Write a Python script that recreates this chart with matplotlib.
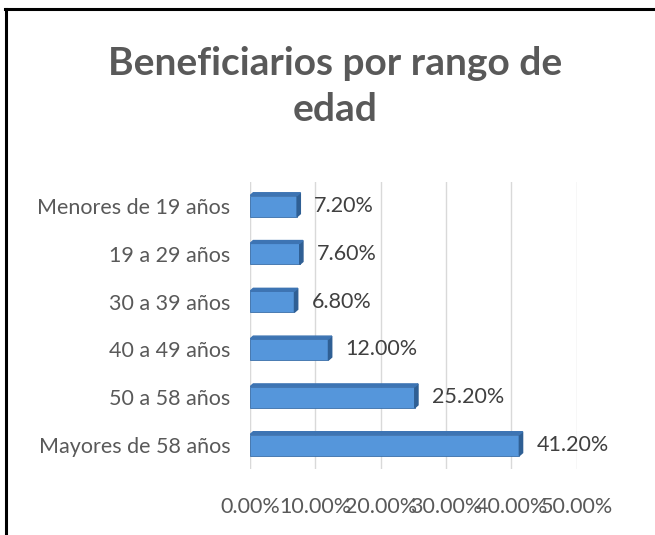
import matplotlib.pyplot as plt
from matplotlib.lines import Line2D
from matplotlib.patches import Polygon

categories = ["Menores de 19 años", "19 a 29 años", "30 a 39 años",
              "40 a 49 años", "50 a 58 años", "Mayores de 58 años"]
values = [7.2, 7.6, 6.8, 12.0, 25.2, 41.2]
ticks = [0, 10, 20, 30, 40, 50]
tick_labels = ["0.00%", "10.00%", "20.00%", "30.00%", "40.00%", "50.00%"]

plt.rcParams['font.family'] = ['Lato', 'DejaVu Sans']

fig = plt.figure(figsize=(6.55, 5.35), dpi=100)
ax = fig.add_axes([0.3817, 0.1234, 0.499, 0.536])

# black frame of the pasted picture (top and left only)
fig.add_artist(Line2D([0.008, 1.0], [0.983, 0.983], color='black', lw=2.2,
                      transform=fig.transFigure))
fig.add_artist(Line2D([0.009, 0.009], [0.0, 0.983], color='black', lw=2.2,
                      transform=fig.transFigure))

ypos = list(range(len(categories)))[::-1]
bar_h = 0.44
ax.barh(ypos, values, height=bar_h, color='#5596db', edgecolor='#3a6fa8',
        linewidth=0.6, zorder=3)

# little dark side face to mimic the 3D look
for y, v in zip(ypos, values):
    side = Polygon([(v, y - bar_h / 2), (v + 0.5, y - bar_h / 2 + 0.06),
                    (v + 0.5, y + bar_h / 2 + 0.06), (v, y + bar_h / 2)],
                   closed=True, color='#2f5f94', zorder=4)
    ax.add_patch(side)
    top = Polygon([(0, y + bar_h / 2), (v, y + bar_h / 2),
                   (v + 0.5, y + bar_h / 2 + 0.06), (0.5, y + bar_h / 2 + 0.06)],
                  closed=True, color='#3d74b3', zorder=4)
    ax.add_patch(top)
    ax.text(v + 2.6, y, f"{v:.2f}%", va='center', ha='left',
            fontsize=15.5, color='#404040')

ax.set_xlim(0, 50)
ax.set_ylim(-0.5, 5.5)
ax.set_xticks(ticks)
ax.set_xticklabels(tick_labels)
ax.set_yticks(ypos)
ax.set_yticklabels(categories)
ax.grid(axis='x', color='#d9d9d9', linewidth=1, zorder=0)
ax.tick_params(axis='both', length=0, colors='#595959', labelsize=15.5)
ax.tick_params(axis='x', pad=20)
ax.tick_params(axis='y', pad=14)
for s in ax.spines.values():
    s.set_visible(False)
ax.axvline(0, color='#bfbfbf', linewidth=1.5, zorder=1)

fig.text(0.512, 0.838, "Beneficiarios por rango de\nedad", ha='center', va='center',
         fontsize=28, fontweight='bold', color='#595959', linespacing=1.36)

fig.savefig("out.png", dpi=100)
